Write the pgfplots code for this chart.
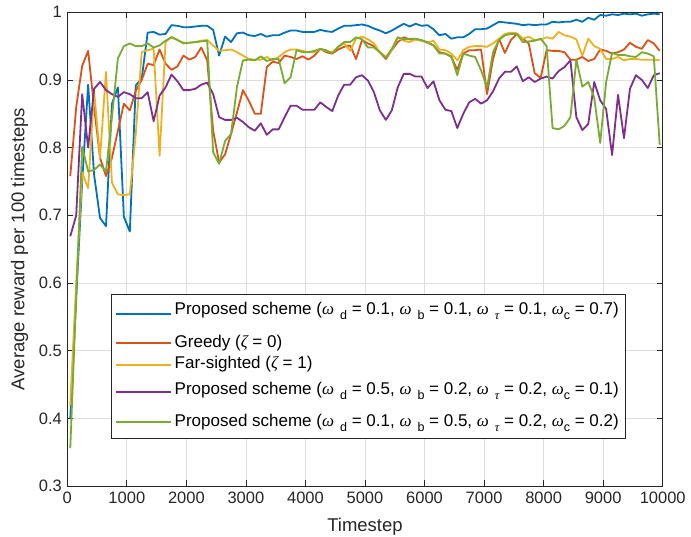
\documentclass[border=0pt]{standalone}
\usepackage{fontspec}
\setmainfont{Liberation Sans}
\newfontfamily\grk{Liberation Serif}
\usepackage{pgfplots}
\pgfplotsset{compat=1.18}
\usepackage{pgfplotstable}
\definecolor{mblue}{rgb}{0,0.447,0.741}
\definecolor{morange}{rgb}{0.85,0.325,0.098}
\definecolor{myellow}{rgb}{0.929,0.694,0.125}
\definecolor{mpurple}{rgb}{0.494,0.184,0.556}
\definecolor{mgreen}{rgb}{0.466,0.674,0.188}
\definecolor{axgray}{rgb}{0.15,0.15,0.15}
\definecolor{gridgray}{rgb}{0.87,0.87,0.87}
\newcommand{\om}{{\grk\itshape ω}}
\newcommand{\sub}[1]{\raisebox{-5pt}{\fontsize{12.5}{12.5}\selectfont #1}}
\newcommand{\sstrutA}{\rule[-15pt]{0pt}{31.5pt}}
\newcommand{\sstrut}{\rule[-11pt]{0pt}{27.5pt}}
\newcommand{\sstrutE}{\rule[-7pt]{0pt}{23.5pt}}
\newcommand{\pstrut}{\rule[-4pt]{0pt}{16.5pt}}
\pgfkeys{/pgf/number format/assume math mode=true}

\pgfplotstableread{
t b o y p g
50 0.40 0.758 0.42 0.669 0.356
150 0.58 0.86 0.60 0.70 0.58
250 0.75 0.921 0.763 0.879 0.801
350 0.893 0.943 0.740 0.80 0.765
450 0.76 0.86 0.884 0.887 0.767
550 0.696 0.785 0.785 0.897 0.775
650 0.684 0.758 0.912 0.885 0.765
750 0.865 0.785 0.748 0.879 0.845
850 0.889 0.825 0.731 0.875 0.932
950 0.698 0.865 0.730 0.882 0.950
1050 0.676 0.855 0.731 0.879 0.954
1150 0.892 0.884 0.82 0.873 0.950
1250 0.902 0.900 0.941 0.873 0.950
1350 0.970 0.924 0.944 0.882 0.954
1450 0.971 0.922 0.946 0.839 0.948
1550 0.967 0.945 0.788 0.877 0.951
1650 0.968 0.924 0.956 0.889 0.958
1750 0.981 0.915 0.964 0.908 0.963
1850 0.980 0.920 0.959 0.898 0.959
1950 0.978 0.936 0.955 0.885 0.954
2050 0.978 0.930 0.955 0.885 0.955
2150 0.979 0.934 0.956 0.887 0.956
2250 0.980 0.948 0.958 0.893 0.957
2350 0.980 0.929 0.959 0.896 0.958
2450 0.974 0.825 0.951 0.879 0.793
2550 0.936 0.778 0.943 0.845 0.776
2650 0.964 0.790 0.944 0.841 0.810
2750 0.956 0.820 0.945 0.841 0.820
2850 0.969 0.852 0.941 0.844 0.890
2950 0.970 0.885 0.936 0.838 0.929
3050 0.966 0.869 0.931 0.830 0.930
3150 0.965 0.850 0.930 0.825 0.929
3250 0.968 0.850 0.930 0.836 0.935
3350 0.964 0.919 0.934 0.819 0.928
3450 0.966 0.927 0.929 0.827 0.931
3550 0.966 0.925 0.934 0.827 0.931
3650 0.970 0.936 0.941 0.845 0.895
3750 0.973 0.934 0.945 0.862 0.904
3850 0.973 0.931 0.945 0.862 0.944
3950 0.971 0.935 0.943 0.856 0.941
4050 0.971 0.930 0.941 0.856 0.941
4150 0.971 0.936 0.941 0.856 0.943
4250 0.974 0.946 0.946 0.867 0.946
4350 0.972 0.941 0.943 0.860 0.944
4450 0.971 0.939 0.941 0.854 0.939
4550 0.976 0.945 0.949 0.877 0.949
4650 0.980 0.949 0.954 0.893 0.956
4750 0.980 0.951 0.943 0.893 0.956
4850 0.981 0.931 0.961 0.904 0.963
4950 0.982 0.959 0.964 0.907 0.960
5050 0.980 0.954 0.960 0.899 0.948
5150 0.976 0.950 0.954 0.882 0.948
5250 0.973 0.941 0.941 0.855 0.941
5350 0.969 0.931 0.934 0.841 0.933
5450 0.973 0.944 0.944 0.855 0.946
5550 0.978 0.956 0.963 0.889 0.963
5650 0.983 0.963 0.958 0.909 0.960
5750 0.979 0.960 0.956 0.909 0.961
5850 0.983 0.960 0.960 0.905 0.961
5950 0.980 0.958 0.958 0.905 0.959
6050 0.981 0.956 0.955 0.888 0.955
6150 0.975 0.951 0.958 0.898 0.951
6250 0.966 0.941 0.945 0.870 0.939
6350 0.968 0.939 0.944 0.856 0.939
6450 0.961 0.934 0.939 0.854 0.935
6550 0.963 0.915 0.929 0.829 0.907
6650 0.963 0.939 0.944 0.850 0.939
6750 0.968 0.944 0.949 0.867 0.936
6850 0.975 0.944 0.950 0.872 0.934
6950 0.975 0.945 0.950 0.865 0.914
7050 0.976 0.879 0.949 0.870 0.889
7150 0.981 0.931 0.954 0.883 0.941
7250 0.986 0.961 0.961 0.902 0.959
7350 0.985 0.940 0.968 0.912 0.966
7450 0.984 0.959 0.970 0.912 0.968
7550 0.983 0.968 0.969 0.920 0.968
7650 0.981 0.961 0.961 0.898 0.956
7750 0.982 0.954 0.964 0.904 0.957
7850 0.981 0.910 0.959 0.897 0.958
7950 0.982 0.903 0.960 0.902 0.961
8050 0.982 0.944 0.963 0.905 0.950
8150 0.986 0.943 0.961 0.902 0.829
8250 0.985 0.943 0.971 0.913 0.827
8350 0.986 0.941 0.966 0.919 0.832
8450 0.986 0.930 0.964 0.929 0.845
8550 0.989 0.930 0.960 0.845 0.930
8650 0.986 0.934 0.936 0.826 0.890
8750 0.992 0.928 0.961 0.835 0.897
8850 0.989 0.931 0.950 0.897 0.874
8950 0.996 0.945 0.946 0.870 0.807
9050 0.995 0.943 0.931 0.857 0.897
9150 0.997 0.939 0.931 0.789 0.940
9250 0.996 0.941 0.934 0.878 0.937
9350 0.998 0.945 0.929 0.814 0.937
9450 0.997 0.955 0.931 0.887 0.935
9550 0.998 0.949 0.931 0.907 0.934
9650 0.995 0.946 0.930 0.900 0.941
9750 0.997 0.959 0.930 0.888 0.939
9850 0.998 0.954 0.930 0.907 0.935
9950 0.997 0.943 0.929 0.910 0.804
}\datatable

\begin{document}
\begin{tikzpicture}
\begin{axis}[
  at={(0,0)}, anchor=south west,
  width=595.4pt, height=473.7pt, scale only axis,
  xmin=0, xmax=10000, ymin=0.3, ymax=1,
  xtick={0,1000,2000,3000,4000,5000,6000,7000,8000,9000,10000},
  ytick={0.3,0.4,0.5,0.6,0.7,0.8,0.9,1},
  scaled x ticks=false,
  xticklabel style={/pgf/number format/1000 sep={}, yshift=-2pt},
  yticklabel style={xshift=-2pt},
  tick align=inside, tick pos=both, major tick length=6pt,
  grid=major, major grid style={color=gridgray, line width=0.7pt},
  axis line style={color=axgray, line width=0.8pt},
  tick style={color=axgray, line width=0.8pt},
  ticklabel style={font=\fontsize{16.5}{18}\selectfont, text=axgray},
  xlabel={Timestep}, ylabel={Average reward per 100 timesteps},
  label style={font=\fontsize{18.5}{20}\selectfont, text=axgray},
  xlabel style={at={(axis description cs:0.5,-0.086)}, anchor=center},
  ylabel style={at={(axis description cs:-0.08,0.5)}, anchor=center},
  legend cell align=left,
  legend style={at={(axis description cs:0.0734,0.4053)}, anchor=north west,
    draw=axgray, line width=0.8pt, fill=white,
    font=\fontsize{17}{18}\selectfont, inner xsep=4pt, inner ysep=1.5pt,
    nodes={inner sep=2.5pt, text depth=}, row sep=0pt,
    /tikz/every even column/.append style={column sep=2pt}},
  legend image code/.code={\draw[#1, line width=1.8pt] (0pt,0pt) -- (55pt,0pt);},
  every axis plot/.append style={line width=1.8pt, line join=round, mark=none},
]
\addplot[color=mblue, line width=1.8pt] table[x=t, y=b] {\datatable};
\addlegendentry{\sstrutA Proposed scheme (\om\hspace{6pt}\sub{d} = 0.1, \om\hspace{6pt}\sub{b} = 0.1, \om\hspace{6pt}\sub{{\grk\itshape τ}} = 0.1, \om\sub{c} = 0.7)}
\addplot[color=morange, line width=1.8pt] table[x=t, y=o] {\datatable};
\addlegendentry{\pstrut Greedy ({\grk\itshape ζ} = 0)}
\addplot[color=myellow, line width=1.8pt] table[x=t, y=y] {\datatable};
\addlegendentry{\pstrut Far-sighted ({\grk\itshape ζ} = 1)}
\addplot[color=mpurple, line width=1.8pt] table[x=t, y=p] {\datatable};
\addlegendentry{\sstrut Proposed scheme (\om\hspace{6pt}\sub{d} = 0.5, \om\hspace{6pt}\sub{b} = 0.2, \om\hspace{6pt}\sub{{\grk\itshape τ}} = 0.2, \om\sub{c} = 0.1)}
\addplot[color=mgreen, line width=1.8pt] table[x=t, y=g] {\datatable};
\addlegendentry{\sstrutE Proposed scheme (\om\hspace{6pt}\sub{d} = 0.1, \om\hspace{6pt}\sub{b} = 0.5, \om\hspace{6pt}\sub{{\grk\itshape τ}} = 0.2, \om\sub{c} = 0.2)}
\end{axis}
\pgfresetboundingbox
\useasboundingbox (-67.3pt,-51pt) rectangle (623.7pt,486pt);
\end{tikzpicture}
\end{document}
